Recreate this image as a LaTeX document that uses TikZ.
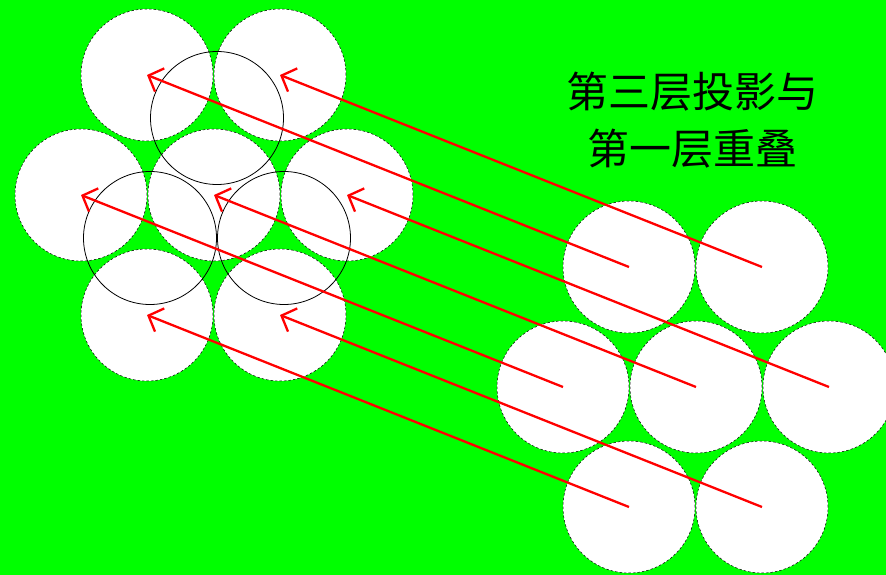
\documentclass[tikz,border=0pt]{standalone}
\usepackage{fontspec}
\newfontfamily\cjk{Noto Sans CJK SC}
\usetikzlibrary{arrows.meta}
\definecolor{Field}{HTML}{00FF00}
\definecolor{Ray}{HTML}{FF0000}

\begin{document}
\begin{tikzpicture}[x=1pt,y=-1pt,
  ball/.style={circle,minimum size=132pt,inner sep=0pt,fill=white,draw=black,line width=0.5pt,dash pattern=on 2.5pt off 2pt},
  hollow/.style={circle,minimum size=133pt,inner sep=0pt,draw=black,line width=0.8pt},
  ray/.style={Ray,line width=2.3pt,-{Straight Barb[length=12pt,width=25pt]}}]
\fill[Field] (0,0) rectangle (886,575);
\useasboundingbox (0,0) rectangle (886,575);
% first layer
\node[ball] (L1) at (147,75) {};
\node[ball] (L2) at (280,75) {};
\node[ball] (L3) at (81,195) {};
\node[ball] (L4) at (214,195) {};
\node[ball] (L5) at (347,195) {};
\node[ball] (L6) at (147,315) {};
\node[ball] (L7) at (280,315) {};
% third layer
\node[ball] (R1) at (629,267) {};
\node[ball] (R2) at (762,267) {};
\node[ball] (R3) at (563,387) {};
\node[ball] (R4) at (696,387) {};
\node[ball] (R5) at (829,387) {};
\node[ball] (R6) at (629,507) {};
\node[ball] (R7) at (762,507) {};
% second layer outlines
\node[hollow] (H1) at (217,118) {};
\node[hollow] (H2) at (150,238) {};
\node[hollow] (H3) at (284,238) {};
% projections
\draw[ray] (R1.center) -- (L1.center);
\draw[ray] (R2.center) -- (L2.center);
\draw[ray] (R3.center) -- (L3.center);
\draw[ray] (R4.center) -- (L4.center);
\draw[ray] (R5.center) -- (L5.center);
\draw[ray] (R6.center) -- (L6.center);
\draw[ray] (R7.center) -- (L7.center);
\node[align=center,font=\cjk\fontsize{42}{57}\selectfont] (caption) at (692,120) {第三层投影与\\第一层重叠};
\end{tikzpicture}
\end{document}
